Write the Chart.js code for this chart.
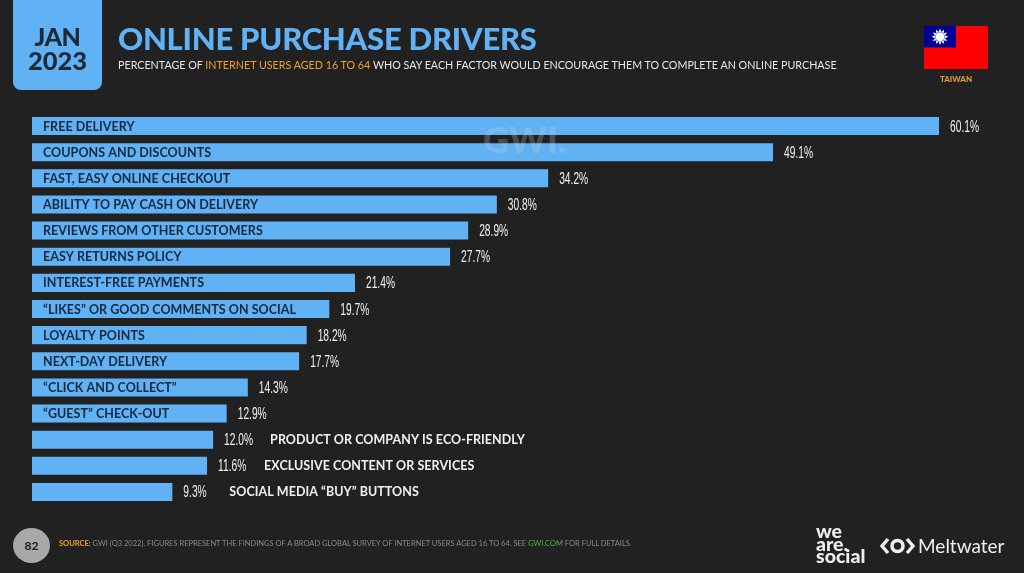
<!DOCTYPE html>
<html>
<head>
<meta charset="utf-8">
<script src="https://cdn.jsdelivr.net/npm/chart.js@4/dist/chart.umd.min.js"></script>
<style>
html,body{margin:0;padding:0;background:#212121;}
#page{position:relative;width:1024px;height:573px;overflow:hidden;background:#212121;font-family:Lato,sans-serif;}
#page canvas{position:absolute;left:0;top:0;}
.t{position:absolute;white-space:nowrap;}
#dateBox{position:absolute;left:13px;top:-10px;width:89px;height:100px;background:#60b2f5;border-radius:8px;}
#jan,#year{width:89px;left:13px;text-align:center;color:#1f2a38;font-weight:900;}
#jan{top:22px;font-size:25px;line-height:28px;letter-spacing:-.5px;}
#year{top:46px;font-size:25.5px;line-height:28px;}
#title{left:118px;top:19px;font-size:31px;line-height:38px;font-weight:900;color:#60b2f5;letter-spacing:-.25px;}
#sub{left:118px;top:58px;font-size:10.73px;line-height:14px;color:#e8e8e8;}
#sub b{font-weight:400;color:#f0a030;}
#gwi{left:483px;top:120px;font-size:36px;line-height:38px;font-weight:900;color:rgba(215,215,215,.24);}
#taiwan{left:924px;width:64px;text-align:center;top:74px;font-size:8px;line-height:10px;font-weight:900;color:#e09a30;}
#flag{position:absolute;left:924px;top:26px;}
#pageNo{position:absolute;left:13px;top:528px;width:37px;height:35px;border-radius:50%;background:#a8a8a8;color:#222;font-size:12px;font-weight:700;line-height:35px;text-align:center;}
#src{left:59px;top:539px;font-size:7.5px;line-height:10px;color:#8a8a8a;}
#src b{color:#f0a030;font-weight:700;}
#src i{font-style:normal;color:#4caf50;}
#weare{left:816px;top:525px;font-size:19.5px;line-height:12.5px;font-weight:900;color:#eee;}
#melt{left:918px;top:533px;font-size:19px;line-height:26px;color:#eee;}
</style>
</head>
<body>
<div id="page">
  <canvas id="purchaseChart" width="1024" height="573"></canvas>
  <div id="dateBox"></div>
  <div class="t" id="jan">JAN</div>
  <div class="t" id="year">2023</div>
  <div class="t" id="title">ONLINE PURCHASE DRIVERS</div>
  <div class="t" id="sub">PERCENTAGE OF <b>INTERNET USERS AGED 16 TO 64</b> WHO SAY EACH FACTOR WOULD ENCOURAGE THEM TO COMPLETE AN ONLINE PURCHASE</div>
  <div class="t" id="gwi">GWI.</div>
  <svg id="flag" width="64" height="43" viewBox="0 0 64 43">
    <rect width="64" height="43" fill="#fe0000"/>
    <rect width="32" height="21.5" fill="#000095"/>
    <g id="sunRays" fill="#fff"></g>
    <circle cx="16" cy="10.75" r="4.6" fill="#fff"/>
  </svg>
  <div class="t" id="taiwan">TAIWAN</div>
  <div id="pageNo">82</div>
  <div class="t" id="src"><b>SOURCE:</b> GWI (Q3 2022). FIGURES REPRESENT THE FINDINGS OF A BROAD GLOBAL SURVEY OF INTERNET USERS AGED 16 TO 64. SEE <i>GWI.COM</i> FOR FULL DETAILS.</div>
  <div class="t" id="weare">we<br>are.<br>social</div>
  <svg style="position:absolute;left:880px;top:536px" width="35" height="20" viewBox="0 0 35 20">
    <path d="M8 3 L2 10 L8 17 M27 3 L33 10 L27 17" fill="none" stroke="#eee" stroke-width="3.4"/>
    <circle cx="17.5" cy="10" r="5.5" fill="none" stroke="#eee" stroke-width="3.6"/>
  </svg>
  <div class="t" id="melt">Meltwater</div>
</div>
<script>
const categories = [
    'FREE DELIVERY',
    'COUPONS AND DISCOUNTS',
    'FAST, EASY ONLINE CHECKOUT',
    'ABILITY TO PAY CASH ON DELIVERY',
    'REVIEWS FROM OTHER CUSTOMERS',
    'EASY RETURNS POLICY',
    'INTEREST-FREE PAYMENTS',
    '“LIKES” OR GOOD COMMENTS ON SOCIAL',
    'LOYALTY POINTS',
    'NEXT-DAY DELIVERY',
    '“CLICK AND COLLECT”',
    '“GUEST” CHECK-OUT',
    'PRODUCT OR COMPANY IS ECO-FRIENDLY',
    'EXCLUSIVE CONTENT OR SERVICES',
    'SOCIAL MEDIA “BUY” BUTTONS'
];
const values = [60.1, 49.1, 34.2, 30.8, 28.9, 27.7, 21.4, 19.7, 18.2, 17.7, 14.3, 12.9, 12.0, 11.6, 9.3];
// these last labels do not fit in their bar so they go after the value
const outsideLabels = [12, 13, 14];

// rays of the flag sun
const rays = document.getElementById('sunRays');
for (let i = 0; i < 12; i++) {
    const p = document.createElementNS('http://www.w3.org/2000/svg', 'polygon');
    p.setAttribute('points', '14.6,6 17.4,6 16,2.4');
    p.setAttribute('transform', `rotate(${i * 30} 16 10.75)`);
    rays.appendChild(p);
}

const barLabels = {
    id: 'barLabels',
    afterDatasetsDraw(chart) {
        const ctx = chart.ctx;
        const bars = chart.getDatasetMeta(0).data;
        ctx.save();
        ctx.textBaseline = 'middle';
        ctx.textAlign = 'left';
        bars.forEach((bar, i) => {
            // no condensed font installed, so squeeze the value text
            ctx.save();
            ctx.translate(bar.x + 11, bar.y + 1);
            ctx.scale(0.62, 1);
            ctx.font = '16.5px "Liberation Sans"';
            ctx.fillStyle = '#f0f0f0';
            ctx.fillText(values[i].toFixed(1) + '%', 0, 0);
            ctx.restore();

            ctx.font = '700 12.5px Lato';
            ctx.letterSpacing = '0.05px';
            if (outsideLabels.includes(i)) {
                ctx.fillStyle = '#f0f0f0';
                ctx.fillText(categories[i], bar.x + 57, bar.y + 0.5);
            } else {
                ctx.fillStyle = '#16283c';
                ctx.fillText(categories[i], 43, bar.y + 0.5);
            }
            ctx.letterSpacing = '0px';
        });
        ctx.restore();
    }
};

new Chart(document.getElementById('purchaseChart'), {
    type: 'bar',
    data: {
        labels: categories,
        datasets: [{
            data: values,
            backgroundColor: '#60b2f5',
            borderWidth: 0,
            categoryPercentage: 1,
            barPercentage: 0.69
        }]
    },
    options: {
        indexAxis: 'y',
        responsive: false,
        animation: false,
        layout: { padding: { left: 32, right: 11, top: 113, bottom: 68 } },
        plugins: { legend: { display: false }, tooltip: { enabled: false } },
        scales: {
            x: { display: false, min: 0, max: 65 },
            y: { display: false }
        }
    },
    plugins: [barLabels]
});
</script>
</body>
</html>
